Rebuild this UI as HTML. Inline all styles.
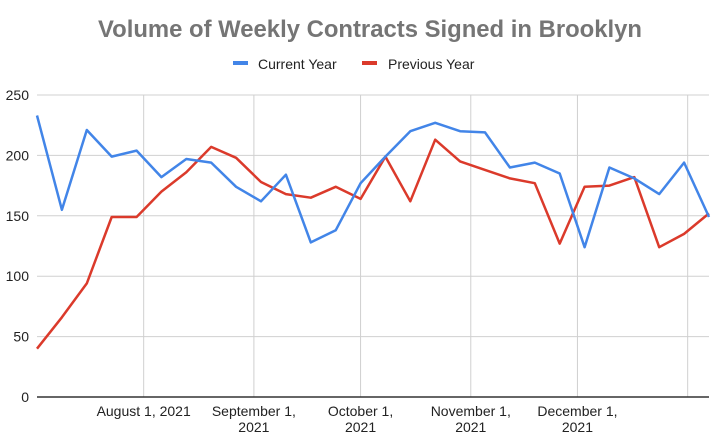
<!DOCTYPE html>
<html><head><meta charset="utf-8"><style>
body{margin:0;background:#fff;}
svg{display:block;font-family:"Liberation Sans",Arial,sans-serif;}
</style></head><body>
<svg id="chart" width="720" height="443" viewBox="0 0 720 443">
<text x="370" y="37" text-anchor="middle" font-size="24" font-weight="bold" fill="#757575" textLength="544" lengthAdjust="spacingAndGlyphs">Volume of Weekly Contracts Signed in Brooklyn</text>
<g>
<g><rect x="233" y="61" width="15" height="4" fill="#4285e8"/><text x="258" y="69" font-size="14" fill="#222">Current Year</text></g>
<g><rect x="362" y="61" width="15" height="4" fill="#db3a2b"/><text x="388" y="69" font-size="14" fill="#222">Previous Year</text></g>
</g>
<g id="grid"></g><g id="series"></g><g id="axes"></g>
</svg>
<script>
const yTicks=[0,50,100,150,200,250];
const xTickLabels=[["August 1, 2021"],["September 1,","2021"],["October 1,","2021"],["November 1,","2021"],["December 1,","2021"],[""]];
const xTickDates=["2021-08-01","2021-09-01","2021-10-01","2021-11-01","2021-12-01","2022-01-01"];
const startDate="2021-07-02";
const currentYear=[233,155,221,199,204,182,197,194,174,162,184,128,138,177,199,220,227,220,219,190,194,185,124,190,181,168,194,149];
const previousYear=[40,66,94,149,149,170,186,207,198,178,168,165,174,164,199,162,213,195,188,181,177,127,174,175,182,124,135,152];
const NS="http://www.w3.org/2000/svg";
const L=37,R=709,T=95,B=397;
const d0=Date.parse(startDate);
const lastDay=(currentYear.length-1)*7;
function xDay(d){return L+(d/lastDay)*(R-L);}
function xDate(s){return xDay((Date.parse(s)-d0)/86400000);}
function y(v){return B-(v/250)*(B-T);}
function mk(tag,attrs,parent){const e=document.createElementNS(NS,tag);for(const k in attrs)e.setAttribute(k,attrs[k]);parent.appendChild(e);return e;}
const grid=document.getElementById('grid'),axes=document.getElementById('axes'),series=document.getElementById('series');
yTicks.forEach(v=>{
  if(v>0){const g=mk('line',{x1:L,x2:R,y1:y(v),y2:y(v),stroke:'#d0d0d0','stroke-width':1},grid);
  
  }
  const t=mk('text',{x:29,y:y(v)+5,'text-anchor':'end','font-size':14,fill:'#222'},axes);
  t.textContent=v;
  
  
});
xTickDates.forEach((d,i)=>{
  const x=xDate(d);
  const g=mk('line',{x1:x,x2:x,y1:T,y2:B,stroke:'#d0d0d0','stroke-width':1},grid);
  
  
  xTickLabels[i].forEach((s,j)=>{
    const t=mk('text',{x:x,y:416+j*16,'text-anchor':'middle','font-size':14,fill:'#222'},axes);
    t.textContent=s;
    
    
  });
});
const ax=mk('line',{x1:L,x2:R,y1:B,y2:B,stroke:'#333','stroke-width':1.5},axes);


function line(vals,color,name){
  const pts=vals.map((v,i)=>xDay(i*7).toFixed(1)+','+y(v).toFixed(1)).join(' ');
  const p=mk('polyline',{points:pts,fill:'none',stroke:color,'stroke-width':2.5,'stroke-linejoin':'round'},series);
  
  
}
line(previousYear,'#db3a2b','previous-year-line');
line(currentYear,'#4285e8','current-year-line');
</script>
</body></html>
